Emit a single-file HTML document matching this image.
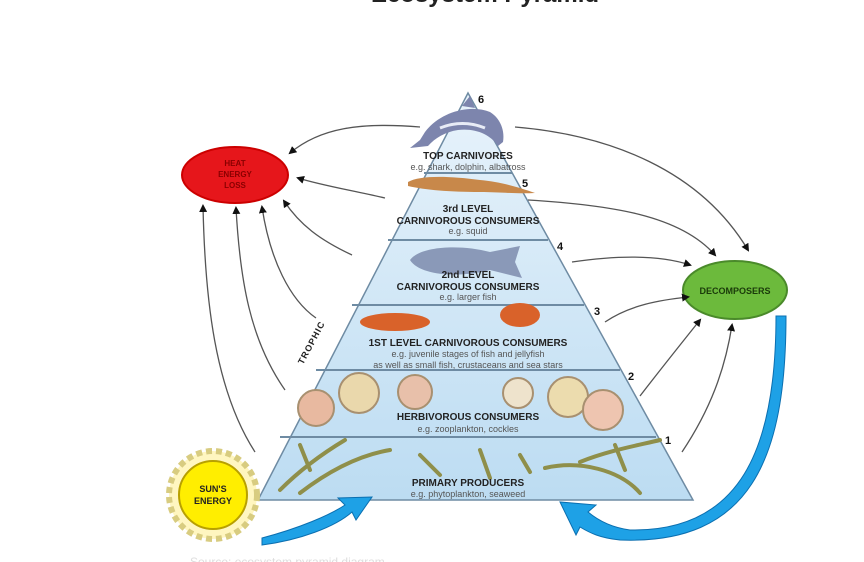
<!DOCTYPE html>
<html><head><meta charset="utf-8"><style>
body{margin:0;background:#fff;width:864px;height:562px;overflow:hidden}
svg{display:block}
text{font-family:"Liberation Sans",sans-serif}
</style></head><body>
<svg width="864" height="562" viewBox="0 0 864 562" xmlns="http://www.w3.org/2000/svg">
<defs>
<marker id="ah" markerWidth="8" markerHeight="8" refX="6" refY="4" orient="auto" markerUnits="userSpaceOnUse"><path d="M0,0 L8,4 L0,8 Z" fill="#111"/></marker>
<linearGradient id="pg" x1="0" y1="0" x2="0" y2="1"><stop offset="0" stop-color="#e8f3fb"/><stop offset="1" stop-color="#bcdcf2"/></linearGradient>
</defs>
<text x="485" y="2" text-anchor="middle" font-size="24" font-weight="bold" fill="#222">Ecosystem Pyramid</text>
<!-- pyramid -->
<polygon points="468,93 693,500 258,500" fill="url(#pg)" stroke="#6e8ba3" stroke-width="1.5"/>
<g stroke="#6e8ba3" stroke-width="2">
<line x1="424" y1="173" x2="512" y2="173"/>
<line x1="388" y1="240" x2="548" y2="240"/>
<line x1="352" y1="305" x2="584" y2="305"/>
<line x1="316" y1="370" x2="620" y2="370"/>
<line x1="280" y1="437" x2="656" y2="437"/>
</g>
<!-- dolphin -->
<path d="M425,132 C440,112 470,104 490,112 C500,118 505,130 503,142 L498,146 C490,134 475,128 458,130 C445,132 435,138 428,146 L410,148 L420,140 Z" fill="#7d85ad"/>
<path d="M462,106 L470,96 L475,108Z" fill="#7d85ad"/>
<path d="M440,128 C455,122 470,122 485,128" stroke="#e8ecf6" stroke-width="3" fill="none"/>
<!-- squid -->
<path d="M408,182 C420,175 450,176 480,180 C500,182 515,186 535,193 C515,194 500,192 480,192 C450,192 425,190 408,186 Z" fill="#c8884a"/>
<!-- fish -->
<path d="M410,260 C420,246 460,244 490,252 L520,246 L515,262 L522,278 L490,270 C460,278 420,276 410,260Z" fill="#8a99b8"/>
<ellipse cx="395" cy="322" rx="35" ry="9" fill="#d9622a"/>
<ellipse cx="520" cy="315" rx="20" ry="12" fill="#d9622a"/>
<g stroke="#a89070" stroke-width="2">
<circle cx="316" cy="408" r="18" fill="#e8b9a0"/>
<circle cx="359" cy="393" r="20" fill="#ead8ac"/>
<circle cx="415" cy="392" r="17" fill="#e8c0aa"/>
<circle cx="518" cy="393" r="15" fill="#eee3cc"/>
<circle cx="568" cy="397" r="20" fill="#ecdcae"/>
<circle cx="603" cy="410" r="20" fill="#eec5b0"/>
</g>
<g stroke="#8f8f4a" stroke-width="4" fill="none" stroke-linecap="round">
<path d="M280,490 C300,470 320,455 345,440"/><path d="M300,493 C330,470 360,455 390,450"/>
<path d="M420,455 L440,475"/><path d="M480,450 L490,478"/><path d="M520,455 L530,472"/>
<path d="M545,468 C580,460 620,470 640,493"/><path d="M580,462 C610,450 640,445 660,440"/>
<path d="M300,445 L310,470"/><path d="M615,445 L625,470"/>
</g>
<!-- labels -->
<g text-anchor="middle" font-weight="bold" fill="#222" font-size="10">
<text x="468" y="159">TOP CARNIVORES</text>
<text x="468" y="212">3rd LEVEL</text><text x="468" y="224">CARNIVOROUS CONSUMERS</text>
<text x="468" y="278">2nd LEVEL</text><text x="468" y="290">CARNIVOROUS CONSUMERS</text>
<text x="468" y="346">1ST LEVEL CARNIVOROUS CONSUMERS</text>
<text x="468" y="420">HERBIVOROUS CONSUMERS</text>
<text x="468" y="486">PRIMARY PRODUCERS</text>
</g>
<g text-anchor="middle" fill="#555" font-size="9">
<text x="468" y="170">e.g. shark, dolphin, albatross</text>
<text x="468" y="234">e.g. squid</text>
<text x="468" y="300">e.g. larger fish</text>
<text x="468" y="357">e.g. juvenile stages of fish and jellyfish</text>
<text x="468" y="368">as well as small fish, crustaceans and sea stars</text>
<text x="468" y="432">e.g. zooplankton, cockles</text>
<text x="468" y="497">e.g. phytoplankton, seaweed</text>
</g>
<g font-weight="bold" font-size="11" fill="#111">
<text x="478" y="103">6</text><text x="522" y="187">5</text><text x="557" y="250">4</text>
<text x="594" y="315">3</text><text x="628" y="380">2</text><text x="665" y="444">1</text>
</g>
<text x="0" y="0" font-size="9" font-weight="bold" fill="#222" transform="translate(303,365) rotate(-62)" letter-spacing="1">TROPHIC</text>
<!-- ellipses -->
<ellipse cx="235" cy="175" rx="53" ry="28" fill="#e6161b" stroke="#c00" stroke-width="2"/>
<g text-anchor="middle" font-size="8" font-weight="bold" fill="#8a0000"><text x="235" y="166">HEAT</text><text x="235" y="177">ENERGY</text><text x="235" y="188">LOSS</text></g>
<ellipse cx="735" cy="290" rx="52" ry="29" fill="#6cba3c" stroke="#4a8a2a" stroke-width="2"/>
<text x="735" y="294" text-anchor="middle" font-size="9" font-weight="bold" fill="#1a3a0a">DECOMPOSERS</text>
<!-- sun -->
<circle cx="213" cy="495" r="44" fill="#fff6c0" stroke="#d8cc80" stroke-dasharray="6 4" stroke-width="6"/>
<circle cx="213" cy="495" r="34" fill="#ffee00" stroke="#b8a000" stroke-width="2"/>
<g text-anchor="middle" font-size="9" font-weight="bold" fill="#222"><text x="213" y="492">SUN'S</text><text x="213" y="504">ENERGY</text></g>
<!-- arrows to heat -->
<g stroke="#555" stroke-width="1.3" fill="none" marker-end="url(#ah)">
<path d="M420,127 C360,122 320,128 290,153"/>
<path d="M385,198 C350,190 320,185 298,178"/>
<path d="M352,255 C320,240 300,225 284,201"/>
<path d="M316,318 C290,300 270,260 262,207"/>
<path d="M285,390 C250,340 240,280 236,208"/>
<path d="M255,452 C215,390 205,300 203,206"/>
<path d="M515,127 C610,135 700,170 748,250"/>
<path d="M528,200 C610,205 680,215 715,255"/>
<path d="M572,262 C620,255 660,255 690,265"/>
<path d="M605,322 C630,305 660,300 688,297"/>
<path d="M640,396 C660,370 680,345 700,320"/>
<path d="M682,452 C710,410 725,370 732,325"/>
</g>
<!-- blue arrows -->
<path d="M262,538 C300,528 330,515 345,505 L338,498 L372,497 L356,520 L352,512 C335,527 300,540 262,545 Z" fill="#1ea1e6" stroke="#0b6fb0" stroke-width="1"/>
<path d="M776,316 L786,316 C786,460 750,545 620,540 C600,538 590,533 580,527 L576,535 L560,502 L596,505 L588,512 C600,522 615,528 630,530 C740,532 776,450 776,316 Z" fill="#1ea1e6" stroke="#0b6fb0" stroke-width="1"/>
<text x="190" y="566" font-size="12" fill="#ddd">Source: ecosystem pyramid diagram</text>
</svg>
</body></html>
